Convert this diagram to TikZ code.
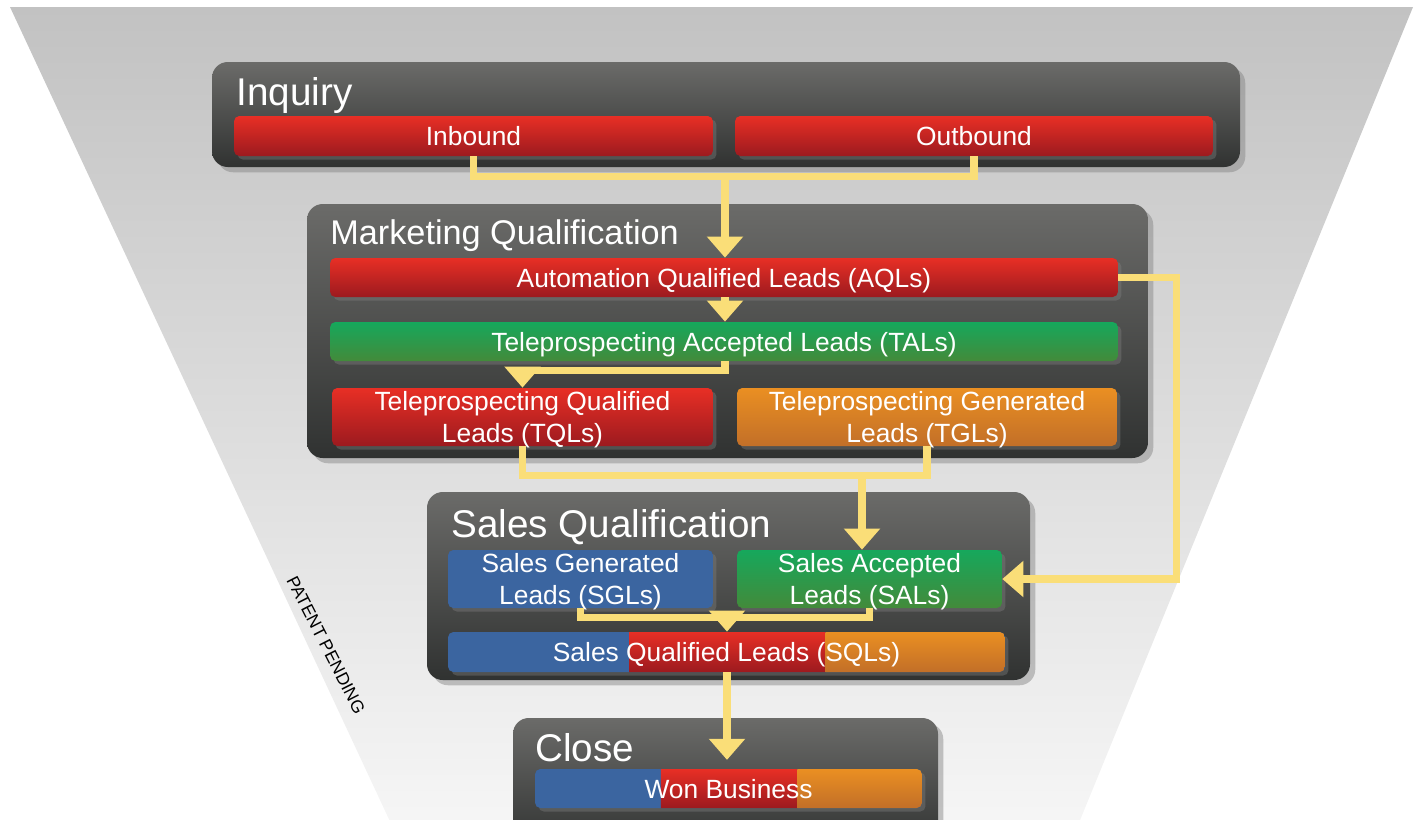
\documentclass[tikz,border=0pt]{standalone}
\usepackage{fontspec}
\setmainfont{Liberation Sans}
\usetikzlibrary{arrows.meta,shadows,calc}

\definecolor{funtop}{HTML}{C2C2C2}
\definecolor{funbot}{HTML}{F6F6F6}
\definecolor{pantop}{HTML}{6B6B69}
\definecolor{panbot}{HTML}{303231}
\definecolor{redtop}{HTML}{E82F25}
\definecolor{redbot}{HTML}{9C1A1F}
\definecolor{grntop}{HTML}{16A85C}
\definecolor{grnbot}{HTML}{438A3A}
\definecolor{orgtop}{HTML}{EA8F22}
\definecolor{orgbot}{HTML}{C26F28}
\definecolor{sblue}{HTML}{3B65A0}
\definecolor{gold}{HTML}{FADE78}

\begin{document}
\begin{tikzpicture}
  [x=0.02cm,y=-0.02cm,
   panel/.style={rounded corners=9pt,top color=pantop,bottom color=panbot,
     drop shadow={opacity=.45,shadow xshift=3pt,shadow yshift=-3pt}},
   title/.style={anchor=base west,inner sep=0pt,text=white,font=\fontsize{22}{26}\selectfont},
   bar/.style={rounded corners=3pt,minimum height=0.8cm,inner sep=0pt,text=white,align=center,
     text depth=0pt,font=\fontsize{15}{18}\selectfont,
     drop shadow={opacity=.4,shadow xshift=2pt,shadow yshift=-2pt}},
   redbar/.style={bar,top color=redtop,bottom color=redbot},
   grnbar/.style={bar,top color=grntop,bottom color=grnbot},
   orgbar/.style={bar,top color=orgtop,bottom color=orgbot},
   bluebar/.style={bar,fill=sblue},
   tribar/.style={bar,fill=sblue,path picture={
     \shade[sharp corners,top color=redtop,bottom color=redbot]
       ($(path picture bounding box.south west)!.325!(path picture bounding box.south east)$) rectangle
       ($(path picture bounding box.north west)!.678!(path picture bounding box.north east)$);
     \shade[sharp corners,top color=orgtop,bottom color=orgbot]
       ($(path picture bounding box.south west)!.678!(path picture bounding box.south east)$) rectangle
       (path picture bounding box.north east);}},
   link/.style={draw=gold,line width=4pt},
   flow/.style={link,-{Triangle[width=20pt,length=12pt]}}]
  \clip (0,0) rectangle (1414,819);

  % funnel
  \shade[top color=funtop,bottom color=funbot] (10,7) -- (1413,7) -- (1076,830) -- (394,830) -- cycle;
  \node[rotate=-63,font=\fontsize{10}{12}\selectfont] (pat) at (326,645) {PATENT PENDING};

  % stages
  \path[panel] (212,62) rectangle (1240,167);
  \path[panel] (307,204) rectangle (1148,458);
  \path[panel] (427,492) rectangle (1030,680);
  \path[panel] (513,718) rectangle (938,850);
  \node[title] (inq) at (236,105) {Inquiry};
  \node[title,font=\fontsize{19.5}{24}\selectfont] (mq) at (330,244) {Marketing Qualification};
  \node[title] (sq) at (451,537) {Sales Qualification};
  \node[title] (cl) at (535,761) {Close};

  % leads
  \node[redbar,minimum width=9.58cm] (inb) at (473.5,136) {Inbound};
  \node[redbar,minimum width=9.56cm] (outb) at (974,136) {Outbound};
  \node[redbar,minimum width=15.76cm,minimum height=0.78cm] (aql) at (724,277.5) {Automation Qualified Leads (AQLs)};
  \node[grnbar,minimum width=15.76cm,minimum height=0.78cm] (tal) at (724,341.5) {Teleprospecting Accepted Leads (TALs)};
  \node[redbar,minimum width=7.62cm,minimum height=1.16cm] (tql) at (522.5,417) {Teleprospecting Qualified\\Leads (TQLs)};
  \node[orgbar,minimum width=7.6cm,minimum height=1.16cm] (tgl) at (927,417) {Teleprospecting Generated\\Leads (TGLs)};
  \node[bluebar,minimum width=5.3cm,minimum height=1.16cm] (sgl) at (580.5,579) {Sales Generated\\Leads (SGLs)};
  \node[grnbar,minimum width=5.3cm,minimum height=1.16cm] (sal) at (869.5,579) {Sales Accepted\\Leads (SALs)};
  \node[tribar,minimum width=11.14cm] (sql) at (726.5,652) {Sales Qualified Leads (SQLs)};
  \node[tribar,minimum width=7.74cm,minimum height=0.78cm] (won) at (728.5,788.5) {Won Business};

  % connectors
  \coordinate (j1) at (725,176);
  \coordinate (j2) at (862,475);
  \coordinate (j3) at (727,617);
  \draw[link] (inb.south) -- ++(0,20) -| (outb.south);
  \draw[flow] (j1) -- (j1 |- aql.north);
  \draw[flow] (j1 |- aql.south) -- (j1 |- tal.north);
  \draw[flow] (j1 |- tal.south) -- ++(0,9) -| (tql.north);
  \draw[link] (tql.south) -- ++(0,29) -| (tgl.south);
  \draw[flow] (j2) -- (j2 |- sal.north);
  \draw[flow] (aql.east) -- ++(58,0) |- (sal.east);
  \draw[link] (sgl.south) -- ++(0,9) -| (sal.south);
  \draw[flow] (j3) -- (j3 |- sql.north);
  \draw[flow,shorten >=5pt] (j3 |- sql.south) -- (j3 |- won.north);
\end{tikzpicture}
\end{document}
